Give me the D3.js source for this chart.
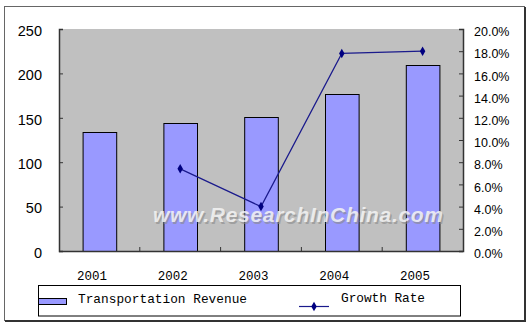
<!DOCTYPE html>
<html><head><meta charset="utf-8">
<script src="https://cdn.jsdelivr.net/npm/d3@7"></script>
<style>html,body{margin:0;padding:0;background:#fff;}svg{display:block;}</style>
</head><body>
<script>
const years = ["2001","2002","2003","2004","2005"];
const revenue = [134, 144, 151, 177, 209];
const growth = [null, 7.4, 4.0, 17.8, 18.0];
const leftTicks = [0, 50, 100, 150, 200, 250];
const rightTicks = [0, 2, 4, 6, 8, 10, 12, 14, 16, 18, 20];
const legendLabels = ["Transportation Revenue", "Growth Rate"];
const watermark = "www.ResearchInChina.com";

const W = 529, H = 324;
const svg = d3.select("body").append("svg").attr("width", W).attr("height", H);

// outer frame
svg.append("rect").attr("x", 4.5).attr("y", 6.5).attr("width", 520).attr("height", 314)
  .attr("fill", "#fff").attr("stroke", "#666").attr("stroke-width", 1);
svg.append("line").attr("x1", 525).attr("x2", 525).attr("y1", 7).attr("y2", 322)
  .attr("stroke", "#333").attr("stroke-width", 2);
svg.append("line").attr("x1", 5).attr("x2", 526).attr("y1", 321).attr("y2", 321)
  .attr("stroke", "#333").attr("stroke-width", 2);

const L = 59, R = 463, T = 29, B = 251;
const x = d3.scaleBand().domain(years).range([L, R]).paddingInner(0.584).paddingOuter(0.292);
const yL = d3.scaleLinear().domain([0, 250]).range([B, T]);
const yR = d3.scaleLinear().domain([0, 20]).range([B, T]);

svg.append("rect").attr("x", L).attr("y", T).attr("width", R - L).attr("height", B - T).attr("fill", "#c0c0c0");

// bars
svg.append("g").selectAll("rect").data(years).join("rect")
  .attr("x", d => x(d) + 0.5)
  .attr("y", (d, i) => Math.round(yL(revenue[i])) + 0.5)
  .attr("width", x.bandwidth())
  .attr("height", (d, i) => B - Math.round(yL(revenue[i])))
  .attr("fill", "#9999ff").attr("stroke", "#000").attr("stroke-width", 1);

// axes
const axisColor = "#333";
const gl = svg.append("g").attr("transform", `translate(${L},0)`)
  .call(d3.axisRight(yL).tickValues(leftTicks).tickSize(4).tickFormat(""));
const gr = svg.append("g").attr("transform", `translate(${R},0)`)
  .call(d3.axisLeft(yR).tickValues(rightTicks).tickSize(4).tickFormat(""));
const xStep = x.step();
const catEdges = d3.range(1, years.length).map(i => L + i * xStep);
const gb = svg.append("g").attr("transform", `translate(0,${B})`);
gb.append("line").attr("x1", L).attr("x2", R).attr("y1", 0.5).attr("y2", 0.5).attr("stroke", axisColor).attr("stroke-width", 1.5);
gb.selectAll("line.t").data(catEdges).join("line").attr("class", "t")
  .attr("x1", d => d).attr("x2", d => d).attr("y1", 0).attr("y2", -4).attr("stroke", axisColor);
[gl, gr].forEach(g => {
  g.select(".domain").attr("stroke", axisColor).attr("stroke-width", 1.5);
  g.selectAll(".tick line").attr("stroke", axisColor);
});

// left labels
svg.append("g").selectAll("text").data(leftTicks).join("text")
  .attr("x", 42).attr("y", d => yL(d) + 3)
  .attr("text-anchor", "end").attr("dominant-baseline", "middle")
  .attr("font-family", "Liberation Sans, Arial, sans-serif").attr("font-size", 14.5).attr("fill", "#000")
  .text(d => d);
// right labels
svg.append("g").selectAll("text").data(rightTicks).join("text")
  .attr("x", 474).attr("y", d => yR(d) + 4)
  .attr("text-anchor", "start").attr("dominant-baseline", "middle")
  .attr("font-family", "Liberation Sans, Arial, sans-serif").attr("font-size", 12.5).attr("fill", "#000")
  .text(d => d.toFixed(1) + "%");
// x labels
svg.append("g").selectAll("text").data(years).join("text")
  .attr("x", d => x(d) + x.bandwidth() / 2 - 7.5).attr("y", 277)
  .attr("text-anchor", "middle").attr("dominant-baseline", "middle")
  .attr("font-family", "Liberation Mono, monospace").attr("font-size", 12.5).attr("fill", "#000")
  .text(d => d);

// watermark
const wm = svg.append("g").attr("font-family", "Liberation Sans, Arial, sans-serif")
  .attr("font-weight", "bold").attr("font-style", "italic").attr("font-size", 21);
wm.append("text").attr("x", 154.5).attr("y", 223.5).attr("fill", "#8a8a8a").attr("opacity", 0.6)
  .attr("textLength", 290).text(watermark);
wm.append("text").attr("x", 153).attr("y", 222).attr("fill", "#f4f4f4").attr("opacity", 0.85)
  .attr("textLength", 290).text(watermark);

// growth line
const pts = years.map((d, i) => ({ x: x(d) + x.bandwidth() / 2, v: growth[i] })).filter(p => p.v !== null);
const line = d3.line().x(p => p.x).y(p => yR(p.v));
svg.append("path").attr("d", line(pts)).attr("fill", "none").attr("stroke", "#1a1a8c").attr("stroke-width", 1.2);
const diamond = d3.symbol().type(d3.symbolDiamond).size(26);
svg.append("g").selectAll("path").data(pts).join("path")
  .attr("transform", p => `translate(${p.x},${yR(p.v)})`)
  .attr("d", diamond).attr("fill", "#000080");

// legend
svg.append("rect").attr("x", 38.5).attr("y", 285.5).attr("width", 422).attr("height", 30.5)
  .attr("fill", "#fff").attr("stroke", "#000").attr("stroke-width", 1);
svg.append("rect").attr("x", 38.5).attr("y", 298.5).attr("width", 28).attr("height", 6)
  .attr("fill", "#9999ff").attr("stroke", "#000").attr("stroke-width", 1);
svg.append("text").attr("x", 78).attr("y", 300).attr("dominant-baseline", "middle")
  .attr("font-family", "Liberation Mono, monospace").attr("font-size", 12.8).attr("fill", "#000")
  .attr("textLength", 169).text(legendLabels[0]);
svg.append("line").attr("x1", 299).attr("x2", 329).attr("y1", 306.5).attr("y2", 306.5)
  .attr("stroke", "#1a1a8c").attr("stroke-width", 1.2);
svg.append("path").attr("transform", "translate(314,306.5)").attr("d", diamond).attr("fill", "#000080");
svg.append("text").attr("x", 341).attr("y", 299).attr("dominant-baseline", "middle")
  .attr("font-family", "Liberation Mono, monospace").attr("font-size", 12.8).attr("fill", "#000")
  .attr("textLength", 84).text(legendLabels[1]);
</script>
</body></html>
